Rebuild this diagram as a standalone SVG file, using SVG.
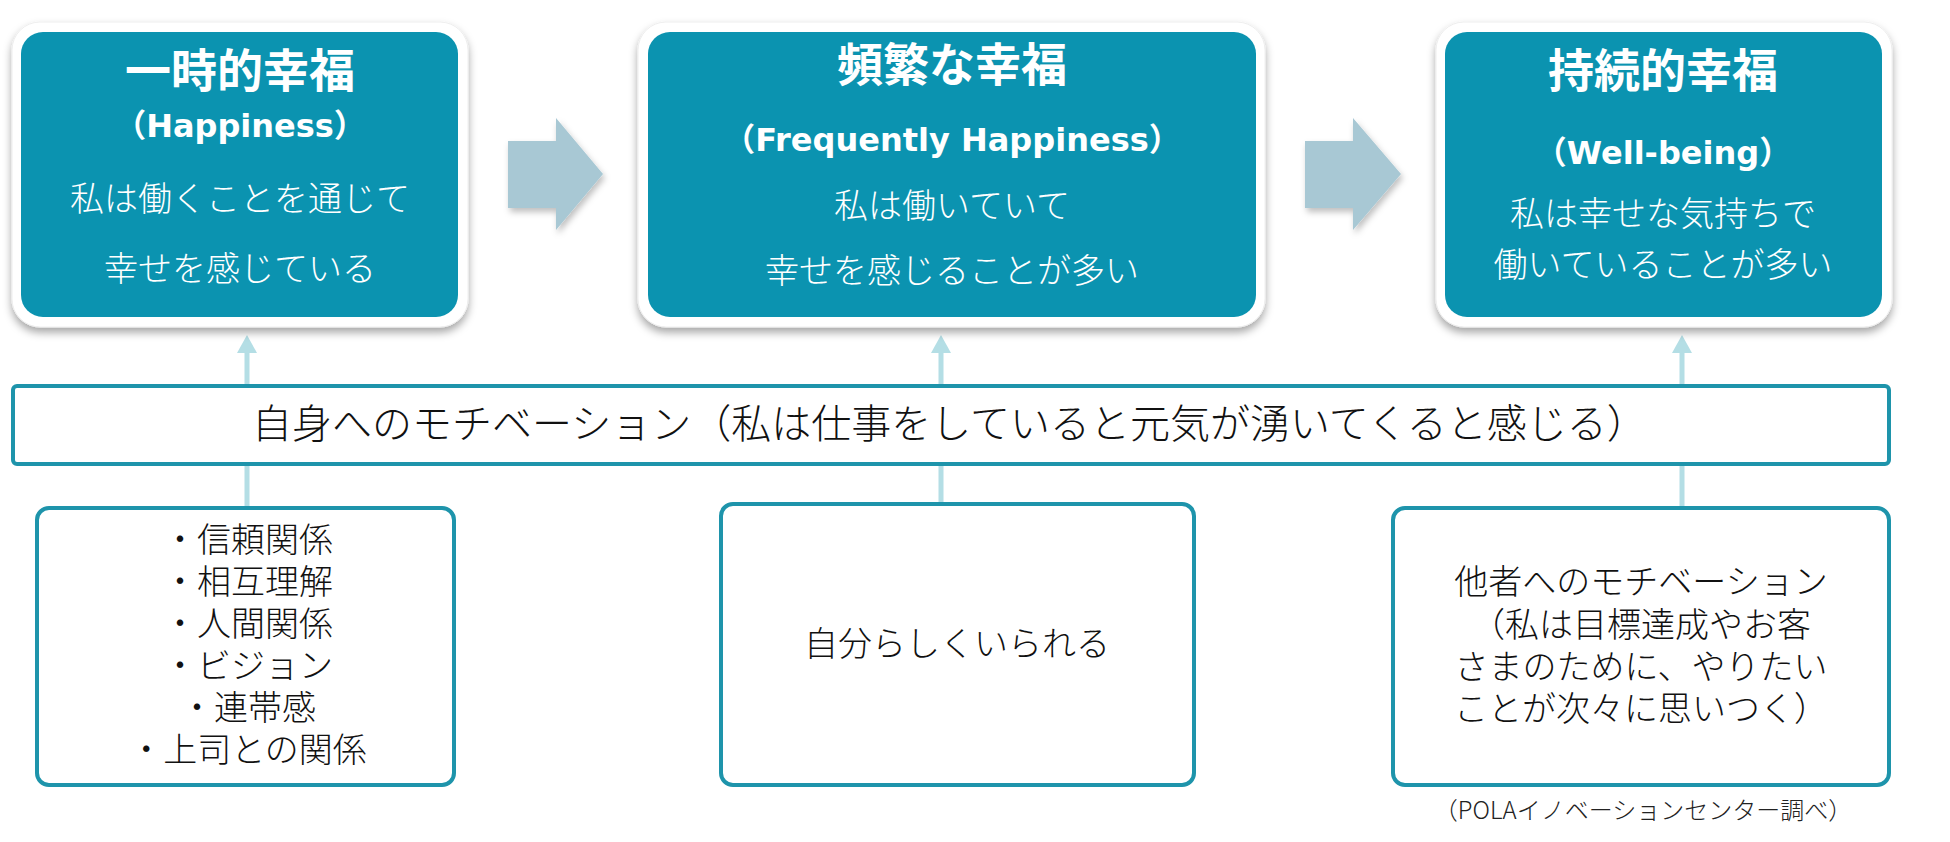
<svg xmlns="http://www.w3.org/2000/svg" width="1950" height="842" viewBox="0 0 1950 842">
<defs>
<filter id="sh" x="-10%" y="-10%" width="120%" height="130%">
<feDropShadow dx="0" dy="5" stdDeviation="4" flood-color="#000" flood-opacity="0.35"/>
</filter>
<filter id="sh2" x="-10%" y="-10%" width="130%" height="130%">
<feDropShadow dx="2" dy="4" stdDeviation="3" flood-color="#000" flood-opacity="0.25"/>
</filter>
<marker id="ah" viewBox="0 0 18 20" refX="0" refY="10" markerWidth="18" markerHeight="20" markerUnits="userSpaceOnUse" orient="auto">
<path d="M0,0 L18,10 L0,20 z" fill="#B4DEE5"/>
</marker>
</defs>
<style>
.outer{fill:#fff;stroke:#eee;stroke-width:1;filter:url(#sh)}
.teal{fill:#0B93B0}
.ttl{font-family:"Noto Sans CJK JP",sans-serif;font-weight:bold;font-size:46px;fill:#fff;text-anchor:middle}
.en{font-family:"DejaVu Sans","Noto Sans CJK JP",sans-serif;font-weight:bold;font-size:32px;fill:#fff;text-anchor:middle}
.wt{font-family:"Noto Sans CJK JP",sans-serif;font-weight:300;font-size:34px;fill:#fff;text-anchor:middle}
.blk{font-family:"Liberation Sans","Noto Sans CJK JP",sans-serif;font-weight:300;font-size:34px;fill:#111;text-anchor:middle}
.box{fill:#fff;stroke:#1E94AB;stroke-width:4}
.blockarrow{fill:#A8C8D4;filter:url(#sh2)}
.conn{stroke:#B4DEE5;stroke-width:5;fill:none;marker-end:url(#ah)}
</style>
<rect width="1950" height="842" fill="#fff"/>

<g id="connectors">
<line class="conn" x1="247" y1="508" x2="247" y2="353"/>
<line class="conn" x1="941" y1="504" x2="941" y2="353"/>
<line class="conn" x1="1682" y1="508" x2="1682" y2="353"/>
<polygon class="blockarrow" points="508,141 556,141 556,118 603,174 556,230 556,208 508,208"/>
<polygon class="blockarrow" points="1305,141 1353,141 1353,118 1401,174 1353,230 1353,208 1305,208"/>
</g>

<g id="node-happiness">
<rect class="outer" x="12" y="22" width="456" height="305" rx="28"/>
<rect class="teal" x="21" y="32" width="437" height="285" rx="22"/>
<text class="ttl" x="240" y="87">一時的幸福</text>
<text class="en" x="240" y="137">（Happiness）</text>
<text class="wt" x="240" y="211">私は働くことを通じて</text>
<text class="wt" x="240" y="281">幸せを感じている</text>
</g>

<g id="node-frequent">
<rect class="outer" x="638" y="22" width="627" height="305" rx="28"/>
<rect class="teal" x="648" y="32" width="608" height="285" rx="22"/>
<text class="ttl" x="952" y="81">頻繁な幸福</text>
<text class="en" x="952" y="151">（Frequently Happiness）</text>
<text class="wt" x="952" y="218">私は働いていて</text>
<text class="wt" x="952" y="283">幸せを感じることが多い</text>
</g>

<g id="node-wellbeing">
<rect class="outer" x="1436" y="22" width="456" height="305" rx="28"/>
<rect class="teal" x="1445" y="32" width="437" height="285" rx="22"/>
<text class="ttl" x="1663" y="87">持続的幸福</text>
<text class="en" x="1663" y="164">（Well-being）</text>
<text class="wt" x="1663" y="226">私は幸せな気持ちで</text>
<text class="wt" x="1663" y="277">働いていることが多い</text>
</g>

<g id="node-self-motivation">
<rect class="box" x="13" y="386" width="1876" height="78" rx="4"/>
<text class="blk" x="252" y="438" style="text-anchor:start;font-size:40px">自身へのモチベーション（私は仕事をしていると元気が湧いてくると感じる）</text>
</g>

<g id="node-relations">
<rect class="box" x="37" y="508" width="417" height="277" rx="12"/>
<text class="blk" x="248" y="552">・信頼関係</text>
<text class="blk" x="248" y="594">・相互理解</text>
<text class="blk" x="248" y="636">・人間関係</text>
<text class="blk" x="248" y="678">・ビジョン</text>
<text class="blk" x="248" y="720">・連帯感</text>
<text class="blk" x="248" y="762">・上司との関係</text>
</g>

<g id="node-self">
<rect class="box" x="721" y="504" width="473" height="281" rx="12"/>
<text class="blk" x="957" y="656">自分らしくいられる</text>
</g>

<g id="node-others">
<rect class="box" x="1393" y="508" width="496" height="277" rx="12"/>
<text class="blk" x="1641" y="594">他者へのモチベーション</text>
<text class="blk" x="1641" y="637">（私は目標達成やお客</text>
<text class="blk" x="1641" y="679">さまのために、やりたい</text>
<text class="blk" x="1641" y="721">ことが次々に思いつく）</text>
</g>

<g id="caption">
<text x="1643" y="819" style="font-family:'Noto Sans CJK JP',sans-serif;font-weight:300;font-size:24px;fill:#222;text-anchor:middle">（POLAイノベーションセンター調べ）</text>
</g>
</svg>
